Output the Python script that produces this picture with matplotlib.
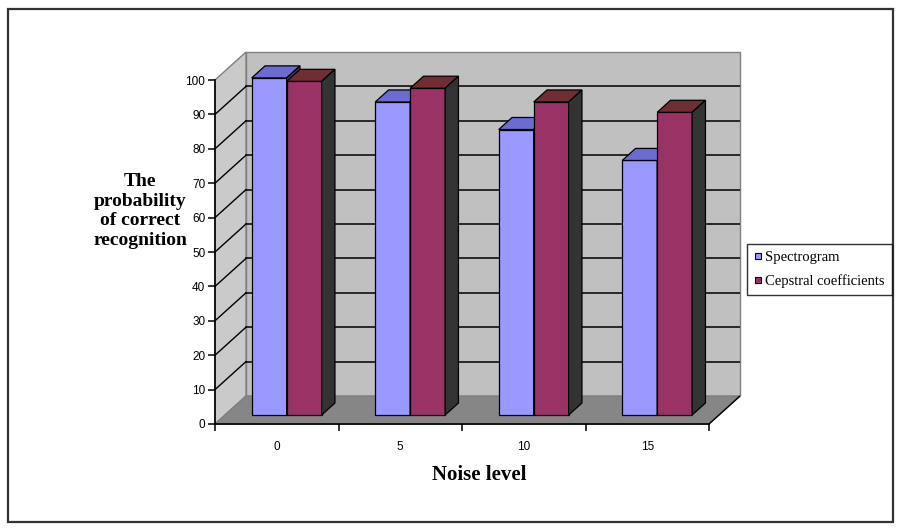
"""
Recognition probability vs noise level: spectrogram vs cepstral coefficients,
drawn as an Excel-style 3D clustered column chart (oblique projection).
"""

import matplotlib
matplotlib.use("Agg")
import matplotlib.pyplot as plt
from matplotlib.patches import Polygon, Rectangle
from matplotlib.lines import Line2D

noise_levels = ["0", "5", "10", "15"]
spectrogram = [98, 91, 83, 74]
cepstral = [97, 95, 91, 88]
series_names = ["Spectrogram", "Cepstral coefficients"]
y_ticks = list(range(0, 101, 10))

# colours per series: front, top, side
FACES = [("#9999ff", "#6b6bd2", "#3c3c66"),
         ("#993366", "#6e2e34", "#333333")]

# full depth of the box, in (category, value) units
DX, DY = 0.251, 8.14
YMAX = 100
BAR_W = 0.283                 # one column, in category units
D_FRONT, D_BACK = 0.32, 0.75  # depth span of the columns


def at(x, v, d=0.0):
    return (x + d * DX, v + d * DY)


def poly(ax, pts, fc, ec="black", lw=0.9, z=2):
    ax.add_patch(Polygon(pts, closed=True, facecolor=fc, edgecolor=ec,
                         linewidth=lw, zorder=z, clip_on=False))


def column(ax, x0, h, faces, z):
    front, top, side = faces
    x1 = x0 + BAR_W
    a, b = D_FRONT, D_BACK
    poly(ax, [at(x0, 0, a), at(x1, 0, a), at(x1, h, a), at(x0, h, a)], front, z=z)
    poly(ax, [at(x0, h, a), at(x1, h, a), at(x1, h, b), at(x0, h, b)], top, z=z)
    poly(ax, [at(x1, 0, a), at(x1, 0, b), at(x1, h, b), at(x1, h, a)], side, z=z)


fig = plt.figure(figsize=(9.02, 5.31), dpi=100)
fig.patches.append(Rectangle((8 / 902, 9 / 531), 885 / 902, 513 / 531,
                             transform=fig.transFigure, fill=False,
                             edgecolor="#333333", linewidth=1.6))

ax = fig.add_axes([215 / 902, 1 - 424 / 531, 525 / 902, 372 / 531])
ax.set_xlim(0, len(noise_levels) + DX)
ax.set_ylim(0, YMAX + DY)
ax.patch.set_visible(False)
n = len(noise_levels)

# walls and floor
poly(ax, [at(0, 0, 1), at(n, 0, 1), at(n, YMAX, 1), at(0, YMAX, 1)],
     "#c0c0c0", ec="#808080", lw=1.0, z=0)
poly(ax, [at(0, 0), at(0, YMAX), at(0, YMAX, 1), at(0, 0, 1)],
     "#cacaca", ec="#808080", lw=1.0, z=0)
poly(ax, [at(0, 0), at(n, 0), at(n, 0, 1), at(0, 0, 1)],
     "#868686", ec="#808080", lw=1.0, z=0)
ax.plot(*zip(at(n, 0), at(n, 0, 1)), color="black", lw=1.0, zorder=1)

# gridlines on the back and side walls
for v in y_ticks[1:-1]:
    ax.plot(*zip(at(0, v, 1), at(n, v, 1)), color="black", lw=1.1, zorder=1)
    ax.plot(*zip(at(0, v), at(0, v, 1)), color="black", lw=1.0, zorder=1)

# columns, painted left to right
gap = (1 - 2 * BAR_W) / 2
for i in range(n):
    for k, vals in enumerate([spectrogram, cepstral]):
        column(ax, i + gap + k * BAR_W, vals[i], FACES[k], z=3 + 2 * i + k)

# axes
for s in ("top", "right"):
    ax.spines[s].set_visible(False)
ax.spines["left"].set_bounds(0, YMAX)
ax.spines["bottom"].set_bounds(0, n)
for s in ("left", "bottom"):
    ax.spines[s].set_linewidth(1.2)
    ax.spines[s].set_zorder(20)

ax.set_yticks(y_ticks)
ax.set_yticklabels([str(v) for v in y_ticks])
ax.tick_params(axis="y", direction="out", length=5, width=1.1, pad=2,
               labelsize=8.5)
ax.set_xticks(range(n + 1))
ax.set_xticklabels([])
ax.set_xticks([i + 0.5 for i in range(n)], minor=True)
ax.set_xticklabels(noise_levels, minor=True)
ax.tick_params(axis="x", which="major", direction="out", length=5, width=1.1)
ax.tick_params(axis="x", which="minor", length=0, pad=12, labelsize=8.5)
for lab in ax.get_yticklabels() + ax.get_xticklabels(minor=True):
    lab.set_family("Liberation Sans")

fig.text(140 / 902, 1 - 211 / 531, "The\nprobability\nof correct\nrecognition",
         ha="center", va="center", multialignment="center",
         family="Liberation Serif", weight="bold", fontsize=14, linespacing=1.22)
fig.text(479 / 902, 1 - 475 / 531, "Noise level", ha="center", va="center",
         family="Liberation Serif", weight="bold", fontsize=15)

handles = [Line2D([], [], ls="none", marker="s", markersize=4.5,
                  markerfacecolor=FACES[k][0], markeredgecolor="black",
                  markeredgewidth=0.8) for k in range(2)]
leg = fig.legend(handles, series_names, loc="upper left",
                 bbox_to_anchor=(747 / 902, 1 - 244 / 531),
                 prop={"family": "Liberation Serif", "size": 10.5},
                 frameon=True, fancybox=False, edgecolor="black",
                 borderpad=0.5, handlelength=0.5, handletextpad=0.25,
                 labelspacing=0.65, borderaxespad=0)
leg.get_frame().set_linewidth(1.0)

fig.savefig("out.png", dpi=100)
